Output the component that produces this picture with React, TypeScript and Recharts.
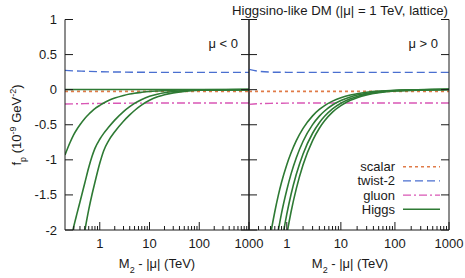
import React from 'react'
import { LineChart, Line, XAxis, YAxis } from 'recharts'

// M2 - |mu| (TeV) grids
const flatM = [0.2, 0.3, 0.5, 1, 2, 5, 10, 100, 1000]
const negM = [0.2, 0.25, 0.3, 0.35, 0.4, 0.5, 0.6, 0.7, 0.8, 1, 1.2, 1.5, 2, 3, 4, 5, 7, 10, 15, 20, 30, 50, 100, 1000]
const posM = [0.4, 0.5, 0.6, 0.7, 0.8, 1, 1.2, 1.5, 2, 3, 4, 5, 7, 10, 15, 20, 30, 50, 100, 1000]

// mu < 0
const scalarNeg = [-0.025, -0.025, -0.025, -0.025, -0.025, -0.025, -0.025, -0.025, -0.025]
const twist2Neg = [0.275, 0.268, 0.262, 0.256, 0.252, 0.249, 0.247, 0.246, 0.246]
const gluonNeg = [-0.205, -0.202, -0.199, -0.196, -0.194, -0.192, -0.191, -0.19, -0.19]
const higgsNeg1 = [-0.93, -0.76, -0.64, -0.56, -0.5, -0.41, -0.35, -0.305, -0.27, -0.225, -0.19, -0.155, -0.12, -0.083, -0.062, -0.05, -0.037, -0.026, -0.018, -0.013, -0.008, -0.004, -0.001, 0]
const higgsNeg2 = [null, -2.22, -1.95, -1.76, -1.6, -1.33, -1.11, -0.95, -0.837, -0.707, -0.623, -0.537, -0.434, -0.312, -0.242, -0.195, -0.139, -0.094, -0.061, -0.044, -0.026, -0.014, -0.006, 0]
const higgsNeg3 = [null, null, null, null, -2.41, -2.01, -1.71, -1.49, -1.32, -1.05, -0.87, -0.73, -0.6, -0.45, -0.36, -0.297, -0.217, -0.152, -0.099, -0.072, -0.046, -0.024, -0.009, 0]
const higgsNeg4 = [0.002, 0.002, 0.002, 0.002, 0.002, 0.002, 0.002, 0.002, 0.002, 0.002, 0.002, 0.002, 0.002, 0.002, 0.002, 0.002, 0.002, 0.002, 0.002, 0.002, 0.002, 0.002, 0.002, 0.002]

// mu > 0
const scalarPos = [-0.025, -0.025, -0.025, -0.025, -0.025, -0.025, -0.025, -0.025, -0.025]
const twist2Pos = [0.29, 0.262, 0.25, 0.247, 0.246, 0.246, 0.246, 0.246, 0.246]
const gluonPos = [-0.21, -0.2, -0.195, -0.192, -0.19, -0.19, -0.19, -0.19, -0.19]
const higgsPos1 = [-2.56, -2.07, -1.74, -1.5, -1.32, -1.07, -0.9, -0.726, -0.551, -0.373, -0.282, -0.227, -0.163, -0.115, -0.076, -0.057, -0.037, -0.02, -0.008, 0.005]
const higgsPos2 = [null, -2.76, -2.32, -2.0, -1.76, -1.43, -1.2, -0.97, -0.735, -0.498, -0.377, -0.304, -0.219, -0.155, -0.103, -0.077, -0.05, -0.029, -0.012, 0.004]
const higgsPos3 = [null, null, -2.89, -2.49, -2.2, -1.775, -1.49, -1.205, -0.916, -0.621, -0.471, -0.38, -0.274, -0.194, -0.13, -0.097, -0.064, -0.037, -0.016, 0.004]
const higgsPos4 = [null, null, null, -2.91, -2.56, -2.07, -1.74, -1.41, -1.07, -0.726, -0.55, -0.444, -0.32, -0.228, -0.152, -0.115, -0.076, -0.044, -0.02, 0.003]

const xTicks = [0.3, 0.4, 0.5, 0.6, 0.7, 0.8, 0.9, 1, 2, 3, 4, 5, 6, 7, 8, 9, 10, 20, 30, 40, 50, 60, 70, 80, 90, 100, 200, 300, 400, 500, 600, 700, 800, 900, 1000]
const xMajor = [1, 10, 100, 1000]
const yTicks = [1, 0.5, 0, -0.5, -1, -1.5, -2]

const legendNames = ['scalar', 'twist-2', 'gluon', 'Higgs']

const FONT = '"Liberation Sans", Arial, sans-serif'
const INK = '#1a1a1a'
const styles: Record<string, { color: string; dash?: string; w: number }> = {
  scalar: { color: '#e07b48', dash: '3 3', w: 1.6 },
  'twist-2': { color: '#4a6fd0', dash: '8 4', w: 1.4 },
  gluon: { color: '#d957b5', dash: '8 3 2 3', w: 1.4 },
  Higgs: { color: '#2e7a34', w: 1.6 },
}

const pts = (xs: number[], ys: (number | null)[]) => xs.map((x, i) => ({ x, y: ys[i] }))

const bottomTick = (p: any) => {
  const major = xMajor.includes(p.payload.value)
  return (
    <g>
      <line x1={p.x} x2={p.x} y1={p.y} y2={p.y - (major ? 8 : 4)} stroke={INK} />
      {major && (
        <text x={p.x} y={p.y + 18} textAnchor="middle" fontSize={13} fontFamily={FONT} fill={INK}>
          {p.payload.value}
        </text>
      )}
    </g>
  )
}
const topTick = (p: any) => {
  const major = xMajor.includes(p.payload.value)
  return <line x1={p.x} x2={p.x} y1={p.y} y2={p.y + (major ? 8 : 4)} stroke={INK} />
}
const leftTick = (labels: boolean) => (p: any) => (
  <g>
    <line x1={p.x} x2={p.x + 8} y1={p.y} y2={p.y} stroke={INK} />
    {labels && (
      <text x={p.x - 8} y={p.y + 4.5} textAnchor="end" fontSize={13} fontFamily={FONT} fill={INK}>
        {p.payload.value}
      </text>
    )}
  </g>
)
const rightTick = (p: any) => <line x1={p.x} x2={p.x - 8} y1={p.y} y2={p.y} stroke={INK} />

type Series = { name: string; data: { x: number; y: number | null }[] }

function Panel({ left, width, yLeftW, yRightW, labels, series }: { left: number; width: number; yLeftW: number; yRightW: number; labels: boolean; series: Series[] }) {
  const common = {
    dataKey: 'x',
    type: 'number' as const,
    scale: 'log' as const,
    domain: [0.2, 1000],
    allowDataOverflow: true,
    ticks: xTicks,
    interval: 0,
    tickSize: 0,
    tickMargin: 0,
    tickLine: false,
    axisLine: { stroke: INK },
  }
  const ycommon = {
    type: 'number' as const,
    domain: [-2, 1],
    allowDataOverflow: true,
    ticks: yTicks,
    interval: 0,
    tickSize: 0,
    tickMargin: 0,
    tickLine: false,
    axisLine: { stroke: INK },
  }
  return (
    <div style={{ position: 'absolute', left, top: 0 }}>
      <LineChart width={width} height={278} margin={{ top: 19.5, right: 0, bottom: 0, left: 0 }}>
        <XAxis {...common} height={48} tick={bottomTick} />
        <XAxis {...common} xAxisId="top" orientation="top" height={0} tick={topTick} />
        <YAxis {...ycommon} width={yLeftW} tick={leftTick(labels)} />
        <YAxis {...ycommon} yAxisId="r" orientation="right" width={yRightW} tick={rightTick} />
        {series.map((s, i) => {
          const st = styles[s.name]
          return (
            <Line
              key={i}
              data={s.data}
              dataKey="y"
              type="monotone"
              stroke={st.color}
              strokeWidth={st.w}
              strokeDasharray={st.dash}
              dot={false}
              isAnimationActive={false}
            />
          )
        })}
      </LineChart>
    </div>
  )
}

const negSeries: Series[] = [
  { name: 'scalar', data: pts(flatM, scalarNeg) },
  { name: 'twist-2', data: pts(flatM, twist2Neg) },
  { name: 'gluon', data: pts(flatM, gluonNeg) },
  { name: 'Higgs', data: pts(negM, higgsNeg4) },
  { name: 'Higgs', data: pts(negM, higgsNeg1) },
  { name: 'Higgs', data: pts(negM, higgsNeg2) },
  { name: 'Higgs', data: pts(negM, higgsNeg3) },
]
const posSeries: Series[] = [
  { name: 'scalar', data: pts(flatM, scalarPos) },
  { name: 'twist-2', data: pts(flatM, twist2Pos) },
  { name: 'gluon', data: pts(flatM, gluonPos) },
  { name: 'Higgs', data: pts(posM, higgsPos1) },
  { name: 'Higgs', data: pts(posM, higgsPos2) },
  { name: 'Higgs', data: pts(posM, higgsPos3) },
  { name: 'Higgs', data: pts(posM, higgsPos4) },
]

const XLabel = ({ x }: { x: number }) => (
  <text x={x} y={268} textAnchor="middle" fontSize={13} fontFamily={FONT} fill={INK}>
    M<tspan baselineShift="sub" fontSize={9}>2</tspan> - |μ| (TeV)
  </text>
)

export default function App() {
  return (
    <div style={{ position: 'absolute', left: 0, top: 0, width: 465, height: 278, background: '#fff' }}>
      <Panel left={0} width={280} yLeftW={65} yRightW={31} labels series={negSeries} />
      <Panel left={200} width={265} yLeftW={49} yRightW={16} labels={false} series={posSeries} />
      <svg width={465} height={278} style={{ position: 'absolute', left: 0, top: 0, pointerEvents: 'none' }}>
        <text x={232} y={14.5} textLength={216} lengthAdjust="spacingAndGlyphs" fontSize={13} fontFamily={FONT} fill={INK}>
          Higgsino-like DM (|μ| = 1 TeV, lattice)
        </text>
        <text x={238} y={47.5} textAnchor="end" fontSize={13} fontFamily={FONT} fill={INK}>μ &lt; 0</text>
        <text x={438} y={47.5} textAnchor="end" fontSize={13} fontFamily={FONT} fill={INK}>μ &gt; 0</text>
        <XLabel x={157} />
        <XLabel x={350} />
        <text transform="translate(21,125) rotate(-90)" textAnchor="middle" fontSize={13} fontFamily={FONT} fill={INK}>
          f<tspan baselineShift="sub" fontSize={9}>p</tspan> (10<tspan baselineShift="super" fontSize={9}>-9</tspan> GeV<tspan baselineShift="super" fontSize={9}>-2</tspan>)
        </text>
        {legendNames.map((n, i) => {
          const st = styles[n]
          const cy = 166.7 + i * 14.2
          return (
            <g key={n}>
              <text x={395} y={cy + 4.5} textAnchor="end" fontSize={13} fontFamily={FONT} fill={INK}>{n}</text>
              <line x1={403} x2={440} y1={cy} y2={cy} stroke={st.color} strokeWidth={st.w} strokeDasharray={st.dash} />
            </g>
          )
        })}
      </svg>
    </div>
  )
}
